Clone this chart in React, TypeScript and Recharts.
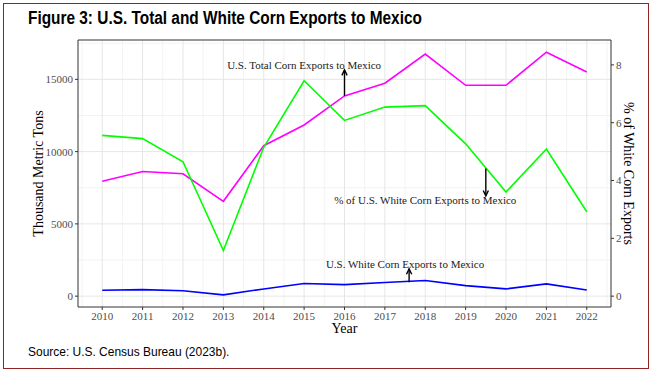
import React from 'react';
import {
  LineChart,
  Line,
  XAxis,
  YAxis,
  CartesianGrid,
  ReferenceLine,
  ReferenceDot,
  ReferenceArea,
} from 'recharts';

// values
const years = [2010, 2011, 2012, 2013, 2014, 2015, 2016, 2017, 2018, 2019, 2020, 2021, 2022];
const totalExports = [7950, 8620, 8470, 6560, 10410, 11840, 13850, 14730, 16750, 14590, 14590, 16880, 15510];
const whiteExports = [410, 450, 370, 90, 500, 870, 800, 940, 1080, 730, 500, 850, 430];
const whiteShare = [5.56, 5.45, 4.65, 1.58, 5.15, 7.45, 6.08, 6.54, 6.59, 5.27, 3.6, 5.09, 2.92];

const leftTicks = [0, 5000, 10000, 15000];
const rightTicks = [0, 2, 4, 6, 8];
const minorYears = [2009.5, 2010.5, 2011.5, 2012.5, 2013.5, 2014.5, 2015.5, 2016.5, 2017.5, 2018.5, 2019.5, 2020.5, 2021.5, 2022.5];
const minorTons = [2500, 7500, 12500, 17500];

const annotations = [
  { text: 'U.S. Total Corn Exports to Mexico', axis: 'left', at: [2015, 16000], from: [2016, 13850], to: [2016, 15650] },
  { text: '% of U.S. White Corn Exports to Mexico', axis: 'right', at: [2018, 3.32], from: [2019.5, 4.42], to: [2019.5, 3.47] },
  { text: 'U.S. White Corn Exports to Mexico', axis: 'left', at: [2017.5, 2250], from: [2017.6, 960], to: [2017.6, 1890] },
];

const data = years.map((year, i) => ({
  year,
  total: totalExports[i],
  white: whiteExports[i],
  share: whiteShare[i],
}));

const X_DOMAIN = [2009.4, 2022.6];
const LEFT_DOMAIN = [-751, 17722];
const RIGHT_DOMAIN = [LEFT_DOMAIN[0] / 2000, LEFT_DOMAIN[1] / 2000];

const serif = "'Liberation Serif', 'Times New Roman', serif";
const sans = "'Liberation Sans', Arial, sans-serif";
const tickStyle = { fill: '#4d4d4d', fontSize: 11, fontFamily: serif };

const Arrow = (props: any) => {
  const { x1, y1, x2, y2 } = props;
  const ang = Math.atan2(y2 - y1, x2 - x1);
  const len = 6;
  const spread = 0.45;
  const ax = x2 - len * Math.cos(ang - spread);
  const ay = y2 - len * Math.sin(ang - spread);
  const bx = x2 - len * Math.cos(ang + spread);
  const by = y2 - len * Math.sin(ang + spread);
  return (
    <g>
      <line x1={x1} y1={y1} x2={x2} y2={y2} stroke="#000" strokeWidth={1.4} />
      <path d={`M${ax},${ay} L${x2},${y2} L${bx},${by}`} fill="none" stroke="#000" strokeWidth={1.4} />
    </g>
  );
};

const noteShape = (text: string) => (props: any) => (
  <text
    x={props.cx}
    y={props.cy}
    textAnchor="middle"
    dominantBaseline="central"
    fontFamily={serif}
    fontSize={11}
    fill="#1a1a1a"
  >
    {text}
  </text>
);

const axisTitle = (value: string, angle: number, dx: number, dy: number) => (props: any) => {
  const { x, y, width, height } = props.viewBox;
  const cx = x + width / 2 + dx;
  const cy = y + height / 2 + dy;
  return (
    <text
      transform={`translate(${cx},${cy}) rotate(${angle})`}
      textAnchor="middle"
      dominantBaseline="central"
      fontFamily={serif}
      fontSize={14}
      fill="#000"
    >
      {value}
    </text>
  );
};

export default function App() {
  return (
    <div style={{ position: 'absolute', left: 0, top: 0, width: 653, height: 373, background: '#fff' }}>
      <div
        style={{
          position: 'absolute',
          left: 3,
          top: 3,
          width: 644,
          height: 364,
          border: '1.5px solid #8e2424',
        }}
      />
      <div
        style={{
          position: 'absolute',
          left: 28,
          top: 8,
          fontFamily: sans,
          fontWeight: 'bold',
          fontSize: 18,
          color: '#000',
          whiteSpace: 'nowrap',
          transform: 'scaleX(0.855)',
          transformOrigin: 'left top',
        }}
      >
        Figure 3: U.S. Total and White Corn Exports to Mexico
      </div>
      <div style={{ position: 'absolute', left: 0, top: 0 }}>
        <LineChart width={653} height={373} data={data} margin={{ top: 40, right: 12, bottom: 36, left: 18 }}>
          <CartesianGrid
            xAxisId="x"
            yAxisId="left"
            stroke="#f3f3f3"
            verticalValues={minorYears}
            horizontalValues={minorTons}
          />
          <CartesianGrid
            xAxisId="x"
            yAxisId="left"
            stroke="#e6e6e6"
            verticalValues={years}
            horizontalValues={leftTicks}
          />
          <XAxis
            xAxisId="x"
            dataKey="year"
            type="number"
            domain={X_DOMAIN}
            allowDataOverflow
            ticks={years}
            interval={0}
            height={30}
            tick={tickStyle}
            tickSize={3}
            tickMargin={2}
            tickLine={{ stroke: '#333' }}
            axisLine={false}
            label={{ content: axisTitle('Year', 0, 0, 6) }}
          />
          <YAxis
            yAxisId="left"
            orientation="left"
            type="number"
            domain={LEFT_DOMAIN}
            allowDataOverflow
            ticks={leftTicks}
            interval={0}
            width={60}
            tick={tickStyle}
            tickSize={3}
            tickMargin={2}
            tickLine={{ stroke: '#333' }}
            axisLine={false}
            label={{ content: axisTitle('Thousand Metric Tons', -90, -10, 0) }}
          />
          <YAxis
            yAxisId="right"
            orientation="right"
            type="number"
            domain={RIGHT_DOMAIN}
            allowDataOverflow
            ticks={rightTicks}
            interval={0}
            width={30}
            tick={tickStyle}
            tickSize={3}
            tickMargin={2}
            tickLine={{ stroke: '#333' }}
            axisLine={false}
            label={{ content: axisTitle('% of White Corn Exports', 90, 2, 0) }}
          />
          <ReferenceArea
            xAxisId="x"
            yAxisId="left"
            x1={X_DOMAIN[0]}
            x2={X_DOMAIN[1]}
            y1={LEFT_DOMAIN[0]}
            y2={LEFT_DOMAIN[1]}
            fill="none"
            fillOpacity={0}
            stroke="#333"
            strokeWidth={1}
            ifOverflow="visible"
          />
          <Line xAxisId="x" yAxisId="left" dataKey="total" stroke="#ff00ff" strokeWidth={1.6} dot={false} isAnimationActive={false} />
          <Line xAxisId="x" yAxisId="right" dataKey="share" stroke="#00ff00" strokeWidth={1.6} dot={false} isAnimationActive={false} />
          <Line xAxisId="x" yAxisId="left" dataKey="white" stroke="#0000ff" strokeWidth={1.6} dot={false} isAnimationActive={false} />
          {annotations.map((a) => (
            <ReferenceLine
              key={`arrow-${a.text}`}
              xAxisId="x"
              yAxisId={a.axis}
              segment={[
                { x: a.from[0], y: a.from[1] },
                { x: a.to[0], y: a.to[1] },
              ]}
              shape={Arrow}
              ifOverflow="visible"
            />
          ))}
          {annotations.map((a) => (
            <ReferenceDot
              key={`note-${a.text}`}
              xAxisId="x"
              yAxisId={a.axis}
              x={a.at[0]}
              y={a.at[1]}
              r={0}
              shape={noteShape(a.text)}
              ifOverflow="visible"
            />
          ))}
        </LineChart>
      </div>
      <div
        style={{
          position: 'absolute',
          left: 28,
          top: 344,
          fontFamily: sans,
          fontSize: 13,
          color: '#000',
          whiteSpace: 'nowrap',
          transform: 'scaleX(0.92)',
          transformOrigin: 'left top',
        }}
      >
        Source: U.S. Census Bureau (2023b).
      </div>
    </div>
  );
}
